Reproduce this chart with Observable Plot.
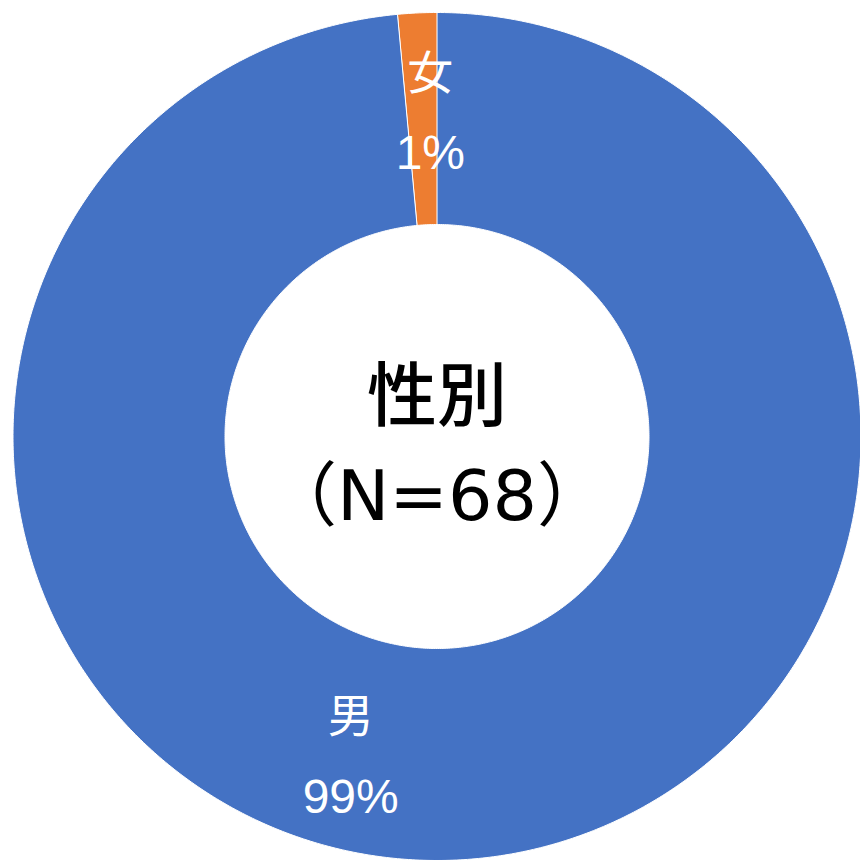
<!DOCTYPE html>
<html>
<head>
<meta charset="utf-8">
<script src="https://cdn.jsdelivr.net/npm/d3@7"></script>
<script src="https://cdn.jsdelivr.net/npm/@observablehq/plot@0.6"></script>
<style>
  html, body { margin: 0; padding: 0; background: #fff; overflow: hidden; }
  #chart svg { display: block; }
</style>
</head>
<body>
<div id="chart"></div>
<script>
// ---- data ----
const categories = ["男", "女"];
const counts = [67, 1];
const colors = ["#4472C4", "#ED7D31"];
const centerTitle = "性別";

// ---- layout / style (not data) ----
const W = 860, H = 860;
const CX = 436.5, CY = 436, R = 424;   // pixel geometry of the ring
const innerRatio = 0.5;
const labelNudgePx = {"男": [-101, 3], "女": [8, -5]}; // manual label placement like the source

const total = d3.sum(counts);
const pie = d3.pie().sort(null).startAngle(0).endAngle(2 * Math.PI);
const arcs = pie(counts);

// polygon vertices for each ring slice in unit-circle coords (y up)
const pts = [];
arcs.forEach((a, i) => {
  const n = Math.max(4, Math.ceil((a.endAngle - a.startAngle) / (Math.PI / 360)));
  for (let k = 0; k <= n; k++) {
    const t = a.startAngle + (a.endAngle - a.startAngle) * k / n;
    pts.push({cat: categories[i], x: Math.sin(t), y: Math.cos(t)});
  }
  for (let k = n; k >= 0; k--) {
    const t = a.startAngle + (a.endAngle - a.startAngle) * k / n;
    pts.push({cat: categories[i], x: innerRatio * Math.sin(t), y: innerRatio * Math.cos(t)});
  }
});

// label anchors: slice centroid at mid ring, plus manual nudge
const labelR = (1 + innerRatio) / 2;
const labels = arcs.map((a, i) => {
  const m = (a.startAngle + a.endAngle) / 2;
  const [nx, ny] = labelNudgePx[categories[i]];
  return {
    cat: categories[i],
    pct: Math.round(counts[i] / total * 100) + "%",
    x: labelR * Math.sin(m) + nx / R,
    y: labelR * Math.cos(m) - ny / R
  };
});

const center = [{x: 0, y: 0}];

const chart = Plot.plot({
  width: W,
  height: H,
  margin: 0,
  style: {background: "#fff", overflow: "hidden"},
  x: {domain: [-1, 1], range: [CX - R, CX + R], axis: null},
  y: {domain: [-1, 1], range: [CY + R, CY - R], axis: null},
  color: {domain: categories, range: colors},
  marks: [
    Plot.line(pts, {x: "x", y: "y", z: "cat", fill: "cat", stroke: "#fff", strokeWidth: 1, curve: "linear-closed"}),
    Plot.text(labels, {x: "x", y: "y", text: "cat", fill: "#fff", fontSize: 46, dy: -40,
      fontFamily: "'Noto Sans CJK JP', sans-serif"}),
    Plot.text(labels, {x: "x", y: "y", text: "pct", fill: "#fff", fontSize: 48, dy: 40,
      fontFamily: "'Liberation Sans', Arial, sans-serif"}),
    Plot.text(center, {x: "x", y: "y", text: () => centerTitle,
      fill: "#000", fontSize: 70, dy: -38, fontWeight: 500,
      fontFamily: "'Noto Sans CJK JP', sans-serif"}),
    Plot.text(center, {x: "x", y: "y", text: () => "（N=" + total + "）",
      fill: "#000", fontSize: 70, dy: 61,
      fontFamily: "'DejaVu Sans', 'Noto Sans CJK JP', sans-serif"})
  ]
});
document.getElementById("chart").appendChild(chart);
</script>
</body>
</html>
